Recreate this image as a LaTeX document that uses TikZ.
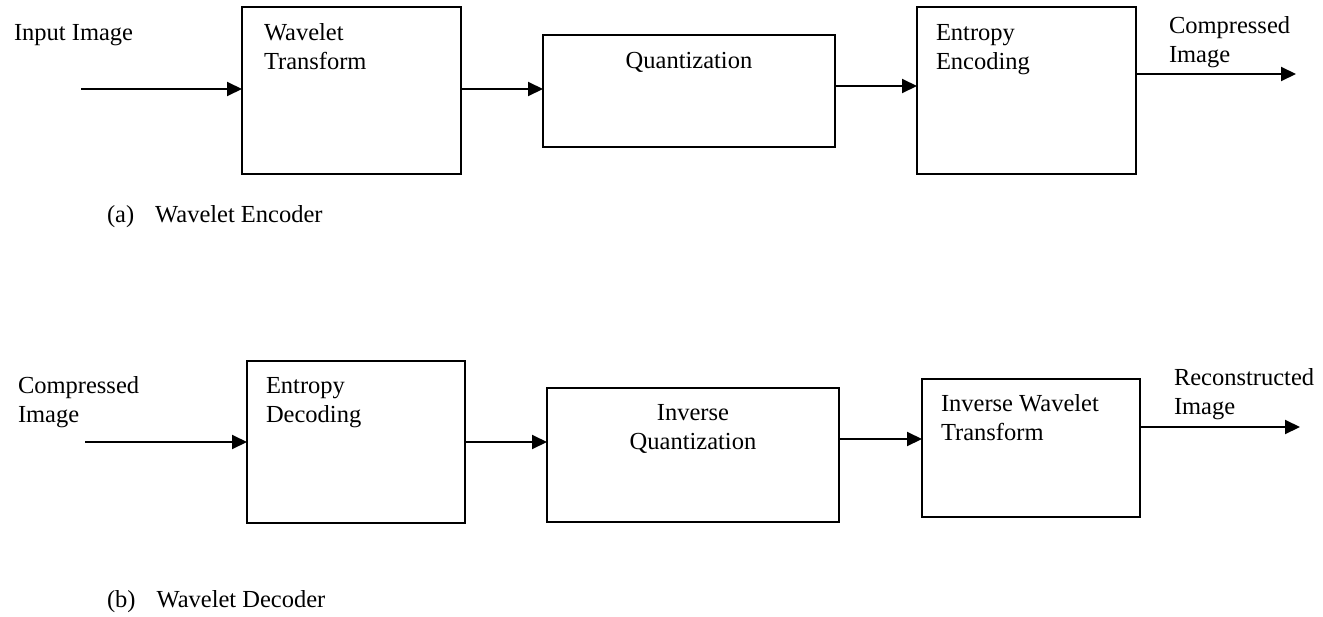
\documentclass[tikz,border=0pt]{standalone}
\usepackage{fontspec}
\setmainfont{Liberation Serif}
\usetikzlibrary{arrows.meta,positioning,calc}
\newcommand{\mylines}[1]{\begin{tabular}[t]{@{}l@{}}#1\end{tabular}}
\newcommand{\myclines}[1]{\begin{tabular}[t]{@{}c@{}}#1\end{tabular}}
\tikzset{
  blk/.style={draw, line width=1.8pt, inner sep=0pt, outer sep=0pt},
  lbl/.style={inner sep=0pt, outer sep=0pt, anchor=base west, font=\fontsize{24.5pt}{29pt}\selectfont},
  clbl/.style={lbl, anchor=base},
  arr/.style={line width=2pt, -{Triangle[length=15pt,width=14pt]}}
}
\begin{document}
\begin{tikzpicture}[x=1pt,y=-1pt]
\useasboundingbox (0,0) rectangle (1323,616);
% top row boxes
\node[blk, minimum width=219pt, minimum height=167pt] (wt) at (351.5,90.5) {};
\node[blk, minimum width=292pt, minimum height=112pt] (q) at (689,91) {};
\node[blk, minimum width=219pt, minimum height=167pt] (ee) at (1026.5,90.5) {};
% top row texts
\node[lbl] (tin) at (14,40) {Input Image};
\node[lbl] (twt) at (264,40) {\mylines{Wavelet\\Transform}};
\node[clbl] (tq) at (689,68) {Quantization};
\node[lbl] (tee) at (936,40) {\mylines{Entropy\\Encoding}};
\node[lbl] (tout) at (1169,33) {\mylines{Compressed\\Image}};
\node[lbl] (capa) at (107,222) {(a)\hspace{21pt}Wavelet Encoder};
% top row arrows
\coordinate (in1) at (81,89);
\coordinate (out1) at (1296,74);
\draw[arr] (in1) -- (in1 -| wt.west);
\draw[arr] ([yshift=1.5pt]wt.east) -- ([yshift=1.5pt]wt.east -| q.west);
\draw[arr] ([yshift=5pt]q.east) -- ([yshift=5pt]q.east -| ee.west);
\draw[arr] (out1 -| ee.east) -- (out1);
% bottom row boxes
\node[blk, minimum width=218pt, minimum height=162pt] (ed) at (356,442) {};
\node[blk, minimum width=292pt, minimum height=134pt] (iq) at (693,455) {};
\node[blk, minimum width=218pt, minimum height=138pt] (iw) at (1031,448) {};
% bottom row texts
\node[lbl] (bin) at (18,393) {\mylines{Compressed\\Image}};
\node[lbl] (ted) at (266,393) {\mylines{Entropy\\Decoding}};
\node[clbl] (tiq) at (693,420) {\myclines{Inverse\\Quantization}};
\node[lbl] (tiw) at (941,411) {\mylines{Inverse Wavelet\\Transform}};
\node[lbl] (bout) at (1174,385) {\mylines{Reconstructed\\Image}};
\node[lbl] (capb) at (107,607) {(b)\hspace{21pt}Wavelet Decoder};
% bottom row arrows
\coordinate (in2) at (85,442);
\coordinate (out2) at (1300,427);
\draw[arr] (in2) -- (in2 -| ed.west);
\draw[arr] (ed.east) -- (ed.east -| iq.west);
\draw[arr] ([yshift=16pt]iq.east) -- ([yshift=16pt]iq.east -| iw.west);
\draw[arr] (out2 -| iw.east) -- (out2);
\end{tikzpicture}
\end{document}
